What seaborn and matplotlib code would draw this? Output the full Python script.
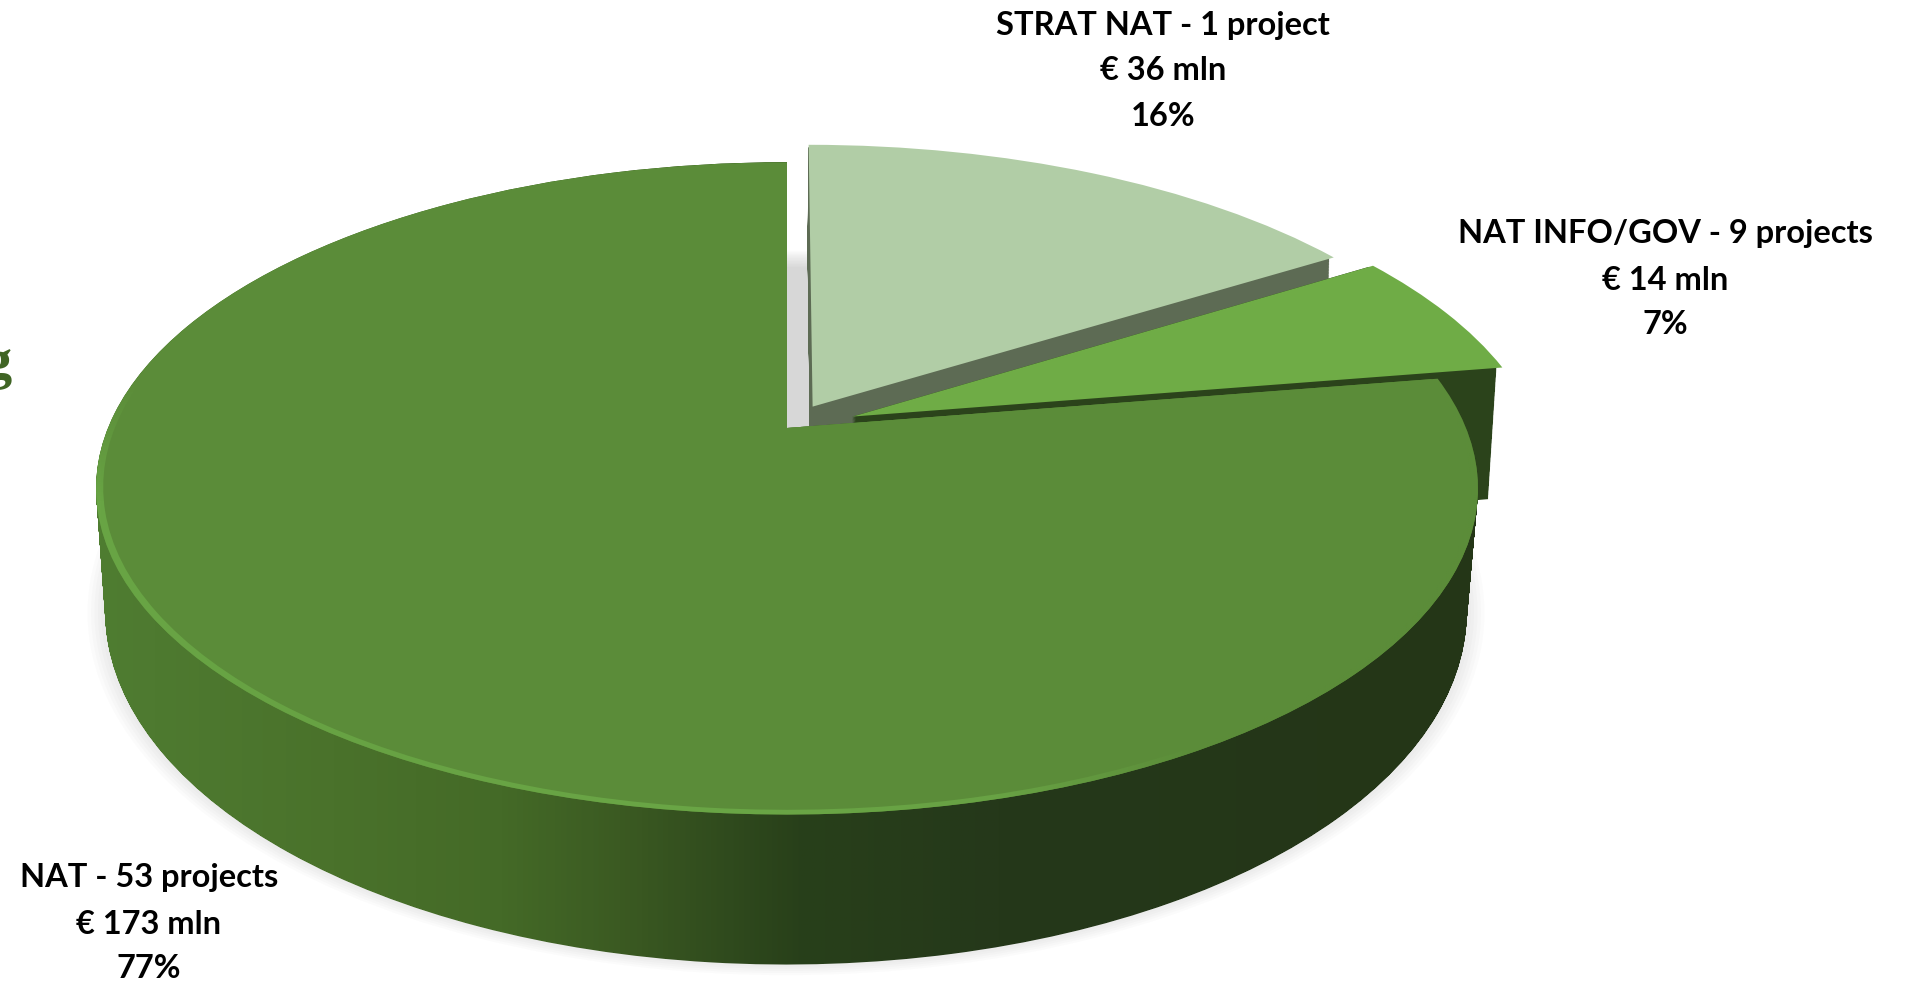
import numpy as np
import seaborn as sns
import matplotlib.pyplot as plt
from matplotlib.colors import LinearSegmentedColormap, to_rgb
from matplotlib.patches import PathPatch
from matplotlib.path import Path
from matplotlib.transforms import Transform

categories = ['STRAT NAT', 'NAT INFO/GOV', 'NAT']
project_labels = ['1 project', '9 projects', '53 projects']
mln_euro = [36, 14, 173]
shares = [16, 7, 77]

sns.set_style('white')
plt.rcParams['font.family'] = ['Lato', 'DejaVu Sans']

top_colors = sns.color_palette(['#b1cda6', '#6fac46', '#5b8c39'])
side_colors = ['#5d6b54', '#2b431b']
explode = [0.078, 0.103, 0]

# x0, y0, a, b, k of the top and bottom disc, in pixels
top_disc = np.array([787, 428, 679, 315, 0.185])
bottom_disc = np.array([786, 555, 672, 344, 0.16])


class Tilt(Transform):
    # tilted disc seen in perspective
    input_dims = 2
    output_dims = 2
    is_separable = False
    has_inverse = False

    def __init__(self, p, grow=0):
        super().__init__()
        self.p = p
        self.grow = grow

    def transform_non_affine(self, xy):
        xy = np.asarray(xy)
        x0, y0, a, b, k = self.p
        w = 1 + k * xy[:, 1]
        X = x0 + a * (1 + self.grow) * xy[:, 0] / w
        Y = y0 - b * (1 + self.grow) * xy[:, 1] / w
        return np.column_stack([X, Y])


def layers(path, low=bottom_disc, n=160):
    res = []
    for t in np.linspace(0, 1, n):
        res.append(Tilt(top_disc + t * (low - top_disc)).transform_path(path))
    return Path.make_compound_path(*res)


def gradient(xs, cols, zorder, clip, top=0, fade=0):
    xs = np.array(xs, dtype=float)
    pos = (xs - xs[0]) / (xs[-1] - xs[0])
    cm = LinearSegmentedColormap.from_list('g', list(zip(pos, [to_rgb(c) for c in cols])))
    shade = np.tile(np.linspace(0, 1, 800), (300, 1))
    alpha = np.clip(np.linspace(0, 1, 300)[:, None] / max(fade, 1e-6), 0, 1) * np.ones(shade.shape)
    im = ax.imshow(shade, cmap=cm, aspect='auto', alpha=alpha,
                   extent=(xs[0], xs[-1], 981, top), zorder=zorder)
    im.set_clip_path(clip, transform=ax.transData)
    return im


fig = plt.figure(figsize=(19.08, 9.81), dpi=100)
ax = fig.add_axes([0, 0, 1, 1])

wedges, _ = ax.pie(mln_euro, explode=explode, colors=top_colors, startangle=90,
                   counterclock=False, radius=1, wedgeprops={'linewidth': 0})
faces, _ = ax.pie(mln_euro, explode=explode, colors=top_colors, startangle=90,
                  counterclock=False, radius=0.99, wedgeprops={'linewidth': 0})
disc, _ = ax.pie([1], colors=['#808080'], radius=1, wedgeprops={'linewidth': 0})
disc[0].set_visible(False)

# soft shadow under the pie
for g in np.linspace(-0.03, 0.026, 12):
    ax.add_patch(PathPatch(Tilt(bottom_disc, g).transform_path(disc[0].get_path()),
                           fc='#707070', ec='none', alpha=0.022, zorder=1))

# sides of the two pulled out slices, then their top faces
narrow = bottom_disc * [1, 1, 0.995, 1, 1] + [0, 10, 0, 0, 0]
for i, z in zip([0, 1], [2, 4]):
    ax.add_patch(PathPatch(layers(wedges[i].get_path(), narrow), fc=side_colors[i], ec='none', zorder=z))
    wedges[i].set_transform(Tilt(top_disc, 0.008) + ax.transData)
    wedges[i].set_zorder(z + 1)
    wedges[i].set_clip_on(False)
    faces[i].set_visible(False)

# main slice: shaded side, full top, light rim on the front half, inner face
gradient([95, 150, 330, 500, 620, 800, 1000, 1480],
         ['#4f7d31', '#4e7a30', '#4a722b', '#446a27', '#3b5a22', '#28401a', '#25381a', '#243617'],
         6, layers(wedges[2].get_path()), fade=0.001)
wedges[2].set_transform(Tilt(top_disc) + ax.transData)
wedges[2].set_zorder(6.5)
wedges[2].set_clip_on(False)
gradient([95, 300, 700, 1000, 1200, 1480],
         ['#69a545', '#67a243', '#6aa646', '#68a244', '#5b8c39', '#5b8c39'],
         7, Tilt(top_disc).transform_path(wedges[2].get_path()), top=380, fade=0.2)
faces[2].set_transform(Tilt(top_disc) + ax.transData)
faces[2].set_zorder(8)
faces[2].set_clip_on(False)

label_pos = [(1163, [25, 71, 116]), (1665, [234, 281, 325]), (149, [878, 924, 968])]
for i, (x, ys) in enumerate(label_pos):
    lines = [categories[i] + ' - ' + project_labels[i],
             '€ ' + str(mln_euro[i]) + ' mln',
             str(shares[i]) + '%']
    for y, s in zip(ys, lines):
        ax.text(x, y, s, ha='center', va='center', fontsize=23.5, fontweight='bold',
                color='black', zorder=10)

# letter cut by the left edge of the picture
ax.text(12, 364, 'g', ha='right', va='center', fontsize=42, fontweight='bold',
        color='#3f6424', family='Liberation Serif', zorder=10)

ax.set_aspect('auto')
ax.set_xlim(0, 1908)
ax.set_ylim(981, 0)
ax.axis('off')
fig.savefig('out.png', dpi=100, facecolor='white')
